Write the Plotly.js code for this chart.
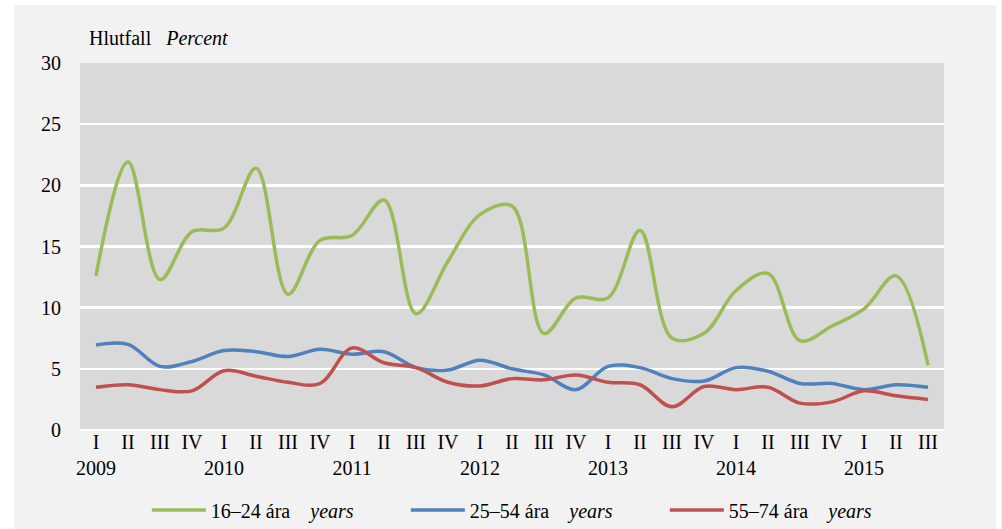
<!DOCTYPE html>
<html>
<head>
<meta charset="utf-8">
<script src="https://cdn.plot.ly/plotly-3.0.1.min.js"></script>
<style>
  html, body { margin: 0; padding: 0; background: #ffffff; }
  #chart { width: 1002px; height: 529px; }
</style>
</head>
<body>
<div id="chart"></div>
<script>
// Quarters 2009 I – 2015 III
const quarterLabels = ["I","II","III","IV","I","II","III","IV","I","II","III","IV","I","II","III","IV","I","II","III","IV","I","II","III","IV","I","II","III"];
const yearLabels    = ["2009","","","","2010","","","","2011","","","","2012","","","","2013","","","","2014","","","","2015","",""];
const categories = quarterLabels.map((q, i) => (2009 + Math.floor(i / 4)) + " " + q);

const age16_24 = [12.6, 21.9, 12.3, 16.2, 16.5, 21.4, 11.1, 15.5, 15.9, 18.8, 9.5, 13.8, 17.6, 18.3, 7.9, 10.8, 10.8, 16.3, 7.5, 7.9, 11.4, 12.8, 7.3, 8.5, 9.9, 12.6, 5.3];
const age25_54 = [6.95, 7.0, 5.2, 5.6, 6.5, 6.4, 6.0, 6.6, 6.2, 6.4, 5.1, 4.9, 5.7, 5.0, 4.5, 3.3, 5.2, 5.1, 4.2, 4.0, 5.1, 4.8, 3.8, 3.8, 3.3, 3.7, 3.5];
const age55_74 = [3.5, 3.7, 3.3, 3.2, 4.85, 4.4, 3.9, 3.8, 6.7, 5.5, 5.1, 3.9, 3.6, 4.2, 4.1, 4.5, 3.9, 3.7, 1.9, 3.55, 3.3, 3.5, 2.2, 2.3, 3.2, 2.8, 2.5];

const SP = "\u00a0\u00a0\u00a0 ";
const seriesNames = ["16–24 ára" + SP + "<i>years</i>", "25–54 ára" + SP + "<i>years</i>", "55–74 ára" + SP + "<i>years</i>"];
const seriesColors = ["#9bbb59", "#4f81bd", "#c0504d"];
const seriesValues = [age16_24, age25_54, age55_74];

const tickText = quarterLabels.map((q, i) => yearLabels[i] ? q + "<br>" + yearLabels[i] : q);

const traces = seriesValues.map((vals, k) => ({
  type: "scatter",
  mode: "lines",
  x: categories,
  y: vals,
  name: seriesNames[k],
  line: { color: seriesColors[k], width: 3.5, shape: "spline", smoothing: 1 },
  hoverinfo: "x+y"
}));

const FONT = "'Liberation Serif', 'Times New Roman', Times, serif";

const layout = {
  width: 1002,
  height: 529,
  margin: { l: 80, r: 58, t: 63, b: 99, autoexpand: false },
  paper_bgcolor: "#f2f2f2",
  plot_bgcolor: "#d9d9d9",
  font: { family: FONT, size: 20, color: "#000000" },
  showlegend: true,
  legend: {
    orientation: "h",
    x: 0.527, xanchor: "center",
    y: -0.218, yanchor: "middle",
    bgcolor: "rgba(0,0,0,0)",
    font: { family: FONT, size: 20, color: "#000000" },
    itemwidth: 54,
    entrywidth: 190,
    traceorder: "normal"
  },
  xaxis: {
    type: "category",
    range: [-0.5, 26.5],
    tickmode: "array",
    tickvals: categories,
    ticktext: tickText,
    tickangle: 0,
    showgrid: false,
    zeroline: false,
    showline: false,
    ticks: "",
    ticklabelstandoff: -2,
    tickfont: { family: FONT, size: 20, color: "#000000" },
    fixedrange: true
  },
  yaxis: {
    range: [0, 30],
    tickvals: [0, 5, 10, 15, 20, 25, 30],
    showgrid: true,
    gridcolor: "#ffffff",
    gridwidth: 2.5,
    zeroline: true,
    zerolinecolor: "#ffffff",
    zerolinewidth: 2.5,
    showline: false,
    ticks: "outside",
    ticklen: 14,
    tickcolor: "rgba(0,0,0,0)",
    tickfont: { family: FONT, size: 20, color: "#000000" },
    fixedrange: true
  },
  annotations: [{
    xref: "paper", yref: "paper",
    x: (87 - 80) / 865, y: (430 - 38) / 367,
    xanchor: "left", yanchor: "middle",
    text: "Hlutfall\u00a0\u00a0 <i>Percent</i>",
    showarrow: false,
    font: { family: FONT, size: 20, color: "#000000" }
  }],
  shapes: [
    { type: "rect", xref: "paper", yref: "paper", layer: "above", line: { width: 0 }, fillcolor: "#ffffff",
      x0: (0 - 80) / 865, x1: (14 - 80) / 865, y0: (430 - 529) / 367, y1: (430 - 0) / 367 },
    { type: "rect", xref: "paper", yref: "paper", layer: "above", line: { width: 0 }, fillcolor: "#ffffff",
      x0: (0 - 80) / 865, x1: (1002 - 80) / 865, y0: (430 - 5) / 367, y1: (430 - 0) / 367 },
    { type: "rect", xref: "paper", yref: "paper", layer: "above", line: { width: 0 }, fillcolor: "#ffffff",
      x0: (997 - 80) / 865, x1: (1002 - 80) / 865, y0: (430 - 529) / 367, y1: (430 - 0) / 367 }
  ]
};

Plotly.newPlot("chart", traces, layout, { displayModeBar: false, staticPlot: true });
</script>
</body>
</html>
